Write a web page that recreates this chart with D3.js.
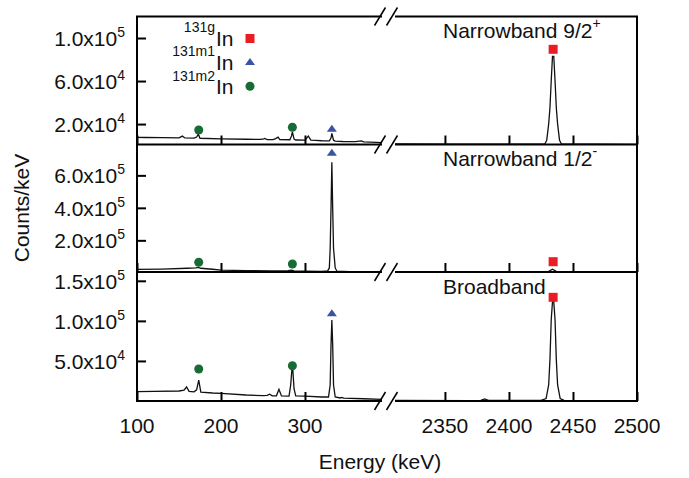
<!DOCTYPE html>
<html>
<head>
<meta charset="utf-8">
<script src="https://cdn.jsdelivr.net/npm/d3@7"></script>
<style>
  html, body { margin: 0; padding: 0; background: #fff; }
  svg text { font-family: "Liberation Sans", Arial, sans-serif; fill: #111; }
</style>
</head>
<body>
<svg id="chart" width="689" height="478"></svg>
<script>
// ---------------- DATA ----------------
const panelNames = ["Narrowband 9/2", "Narrowband 1/2", "Broadband"];
const panelSupers = ["+", "-", ""];

const leftTicks = [100, 200, 300];
const rightTicks = [2350, 2400, 2450, 2500];

const topYTicks = [20000, 60000, 100000];
const midYTicks = [200000, 400000, 600000];
const botYTicks = [50000, 100000, 150000];

// spectra: [energy keV, counts/keV]
const topLeft = [[100,7600],[110,7500],[130,7300],[150,7200],[154,8800],[157,7100],[168,6900],[171,8000],[173,10600],[175,6800],[200,6300],[230,5900],[246,5700],[250,5900],[252,6600],[255,5600],[262,5500],[265,6500],[268,7800],[270,5600],[282,5400],[284,9000],[285,12800],[287,6000],[289,5200],[300,5000],[304,8800],[307,5000],[312,4800],[320,4500],[329,4400],[331,7000],[332,11300],[334,5000],[336,4200],[345,3800],[360,3600],[367,4400],[370,3400],[385,3000],[392,2800]];
const topRight = [[2311,1500],[2360,1400],[2400,1300],[2428,1500],[2429.5,5000],[2431,20000],[2432,35000],[2433,60000],[2434,83000],[2435,83000],[2436,60000],[2437,35000],[2438,20000],[2439.5,5000],[2441,1500],[2500,1200]];

const midLeft = [[100,21000],[130,23000],[160,28000],[170,30000],[173,33000],[176,28000],[190,22000],[200,17000],[230,14000],[260,12000],[280,13000],[284,16000],[287,12000],[300,10000],[320,9000],[327,12000],[329,30000],[330,150000],[331,396000],[332,680000],[333,396000],[334,150000],[336,30000],[338,10000],[360,5000],[392,3000]];
const midRight = [[2311,6500],[2400,6000],[2425,6000],[2431,9000],[2434,22000],[2437,9000],[2442,6000],[2500,5500]];

const botLeft = [[100,11600],[120,12000],[150,12500],[156,13500],[159,17500],[162,12000],[168,11500],[171,14000],[173.5,26000],[176,11000],[190,10000],[200,9600],[230,7500],[250,6600],[255,7000],[258,8400],[261,6400],[266,6500],[269,14600],[272,6300],[281,6000],[283,20000],[285,47500],[287,15000],[289,6500],[300,6000],[320,5000],[328,5000],[330,20000],[331,70000],[332,101000],[333,70000],[334,20000],[336,5000],[342,3800],[344,4500],[346,3600],[370,2800],[392,2000]];
const botRight = [[2311,600],[2370,500],[2378,800],[2381,2500],[2384,800],[2425,700],[2429,3000],[2431,20000],[2432,51000],[2433,101000],[2434,124000],[2435,124000],[2436,101000],[2437,51000],[2438,20000],[2440,3000],[2443,700],[2500,500]];

// isotope markers: energies and per-panel heights
const isoNames = ["131g", "131m1", "131m2"];
const isoColors = ["#ec1c24", "#3a53a4", "#176b35"];
const sqEnergy = 2434.5;
const triEnergy = 332;
const circEnergies = [173.5, 285];
const sqHeights = [89500, 68400, 129400];
const triHeights = [16000, 742000, 110200];
const circHeights = [[14500, 17000], [64700, 54000], [39900, 44000]];

// ---------------- LAYOUT ----------------
const svg = d3.select("#chart");
const FS = 21, SFS = 14;
const xL = d3.scaleLinear().domain([100, 391.7]).range([137, 382]);
const xR = d3.scaleLinear().domain([2311, 2500]).range([395, 637]);
const panels = [
  {y: d3.scaleLinear().domain([1000, 120000]).range([144.5, 16.5]), top: 16.5, bot: 144.5, ticks: topYTicks, L: topLeft, R: topRight},
  {y: d3.scaleLinear().domain([5000, 790000]).range([272, 144.5]), top: 144.5, bot: 272, ticks: midYTicks, L: midLeft, R: midRight},
  {y: d3.scaleLinear().domain([0, 161000]).range([401, 272]), top: 272, bot: 401, ticks: botYTicks, L: botLeft, R: botRight}
];

function sci(v) {
  const e = Math.floor(Math.log10(v));
  const m = v / Math.pow(10, e);
  return [m.toFixed(1) + "x10", String(e)];
}

const defs = svg.append("defs");
panels.forEach((p, i) => {
  defs.append("clipPath").attr("id", "cl" + i).append("rect")
    .attr("x", 137).attr("y", p.top).attr("width", 382 - 137).attr("height", p.bot - p.top);
  defs.append("clipPath").attr("id", "cr" + i).append("rect")
    .attr("x", 395).attr("y", p.top).attr("width", 637 - 395).attr("height", p.bot - p.top);
});

panels.forEach((p, i) => {
  const g = svg.append("g");
  const lineL = d3.line().x(d => xL(d[0])).y(d => p.y(d[1]));
  const lineR = d3.line().x(d => xR(d[0])).y(d => p.y(d[1]));
  g.append("path").attr("d", lineL(p.L)).attr("clip-path", `url(#cl${i})`)
    .attr("fill", "none").attr("stroke", "#111").attr("stroke-width", 1.3);
  g.append("path").attr("d", lineR(p.R)).attr("clip-path", `url(#cr${i})`)
    .attr("fill", "none").attr("stroke", "#111").attr("stroke-width", 1.3);

  // y axis ticks (inward)
  const ya = d3.axisLeft(p.y).tickValues(p.ticks).tickSize(-9).tickFormat("");
  const yg = g.append("g").attr("transform", "translate(137,0)").call(ya);
  yg.select(".domain").remove();
  yg.selectAll("line").attr("stroke", "#000").attr("stroke-width", 2);
  p.ticks.forEach(t => {
    const [m, e] = sci(t);
    const tx = g.append("text").attr("x", 125).attr("y", p.y(t) + 8)
      .attr("text-anchor", "end").attr("font-size", FS);
    tx.append("tspan").text(m);
    tx.append("tspan").attr("font-size", SFS).attr("dy", -9).text(e);
  });

  // x axis ticks (inward) at bottom of panel
  const xaL = d3.axisBottom(xL).tickValues(leftTicks).tickSize(-9).tickFormat("");
  const xaR = d3.axisBottom(xR).tickValues(rightTicks).tickSize(-9).tickFormat("");
  [xaL, xaR].forEach(ax => {
    const xg = g.append("g").attr("transform", `translate(0,${p.bot})`).call(ax);
    xg.select(".domain").remove();
    xg.selectAll("line").attr("stroke", "#000").attr("stroke-width", 2);
  });

  // panel label
  const lt = g.append("text").attr("x", 443).attr("y", p.top + 21.5).attr("font-size", FS);
  lt.append("tspan").text(panelNames[i]);
  if (panelSupers[i]) lt.append("tspan").attr("font-size", SFS).attr("dy", -10).text(panelSupers[i]);

  // markers
  g.append("rect").attr("x", xR(sqEnergy) - 4.5).attr("y", p.y(sqHeights[i]) - 4.5)
    .attr("width", 9).attr("height", 9).attr("fill", isoColors[0]);
  g.append("path").attr("transform", `translate(${xL(triEnergy)},${p.y(triHeights[i])})`)
    .attr("d", "M-5,3.5L5,3.5L0,-3.5Z").attr("fill", isoColors[1]);
  circEnergies.forEach((e, k) => {
    g.append("circle").attr("cx", xL(e)).attr("cy", p.y(circHeights[i][k])).attr("r", 4.5)
      .attr("fill", isoColors[2]);
  });
});

// frame
const frame = svg.append("g").attr("stroke", "#000").attr("stroke-width", 2).attr("fill", "none");
frame.append("line").attr("x1", 137).attr("x2", 137).attr("y1", 16.5).attr("y2", 401);
frame.append("line").attr("x1", 637).attr("x2", 637).attr("y1", 16.5).attr("y2", 401);
[16.5, 144.5, 272, 401].forEach(yy => {
  frame.append("line").attr("x1", 136).attr("x2", 382).attr("y1", yy).attr("y2", yy);
  frame.append("line").attr("x1", 395).attr("x2", 638).attr("y1", yy).attr("y2", yy);
  [380, 392].forEach(cx => {
    frame.append("line").attr("x1", cx - 5.5).attr("y1", yy + 9).attr("x2", cx + 5.5).attr("y2", yy - 9)
      .attr("stroke-width", 1.5);
  });
});

// x tick labels
leftTicks.forEach(t => svg.append("text").attr("x", xL(t)).attr("y", 433)
  .attr("text-anchor", "middle").attr("font-size", FS).text(t));
rightTicks.forEach(t => svg.append("text").attr("x", xR(t)).attr("y", 433)
  .attr("text-anchor", "middle").attr("font-size", FS).text(t));

// axis titles
svg.append("text").attr("x", 380).attr("y", 469).attr("text-anchor", "middle")
  .attr("font-size", FS).text("Energy (keV)");
svg.append("text").attr("transform", "translate(29,208) rotate(-90)").attr("text-anchor", "middle")
  .attr("font-size", FS).text("Counts/keV");

// legend
const legY = [45.5, 69.8, 94.2];
isoNames.forEach((n, i) => {
  svg.append("text").attr("x", 215).attr("y", legY[i] - 13.5).attr("text-anchor", "end")
    .attr("font-size", SFS).text(n);
  svg.append("text").attr("x", 216).attr("y", legY[i]).attr("font-size", FS).text("In");
});
const lx = 250;
svg.append("rect").attr("x", lx - 4.5).attr("y", 38.5 - 4.5).attr("width", 9).attr("height", 9).attr("fill", isoColors[0]);
svg.append("path").attr("transform", `translate(${lx},61.5)`).attr("d", "M-5,3.5L5,3.5L0,-3.5Z").attr("fill", isoColors[1]);
svg.append("circle").attr("cx", lx).attr("cy", 86.3).attr("r", 4.5).attr("fill", isoColors[2]);
</script>
</body>
</html>
